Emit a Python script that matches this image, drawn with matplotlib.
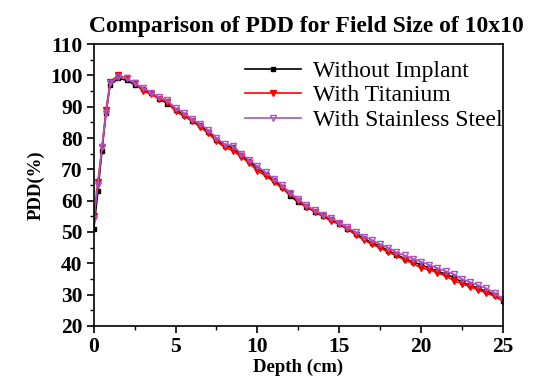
import matplotlib
matplotlib.use("Agg")
import matplotlib.pyplot as plt
from matplotlib.ticker import MultipleLocator

# ── Data ────────────────────────────────────────────────────────────────
depth = [0, 0.25, 0.5, 0.75, 1.0, 1.5, 2.0, 2.5, 3.0, 3.5, 4.0, 4.5, 5.0,
         5.5, 6.0, 6.5, 7.0, 7.5, 8.0, 8.5, 9.0, 9.5, 10.0, 10.5, 11.0,
         11.5, 12.0, 12.5, 13.0, 13.5, 14.0, 14.5, 15.0, 15.5, 16.0, 16.5,
         17.0, 17.5, 18.0, 18.5, 19.0, 19.5, 20.0, 20.5, 21.0, 21.5, 22.0,
         22.5, 23.0, 23.5, 24.0, 24.5, 25.0]

without_implant = [51, 63, 76, 88, 97, 99, 98.5, 97, 95.5, 94.5, 92.5, 91,
                   89, 87.5, 85.5, 84, 82, 79.5, 77.5, 77, 74.5, 72.5, 70.5,
                   68.5, 66.5, 64.5, 61.5, 59.5, 58, 56.5, 55, 54, 52.5, 51,
                   49.5, 48, 46.5, 45.5, 44, 42.8, 41.5, 40.5, 39.5, 38.5,
                   37.5, 36.5, 35.5, 34, 33, 32, 31, 30, 28]

with_titanium = [55, 66, 77, 89, 98, 100, 99, 97.5, 95, 94, 92.5, 91.5,
                 88.5, 87, 85.5, 83.5, 81.5, 79, 77, 76, 74, 72, 69.5,
                 68, 66, 64, 62, 60, 58, 56.5, 55, 53.5, 52.5, 51, 49,
                 47.5, 46, 45, 43.5, 42.5, 41, 40, 38.5, 38, 37, 36, 34.5,
                 33.5, 32.5, 31.5, 30.5, 29.5, 28]

with_stainless = [54, 65, 77, 88, 97.5, 99.5, 99, 97.5, 96, 94.5, 93, 92,
                  89.5, 88, 86, 84.5, 82.5, 80, 78, 77.5, 75, 73, 71,
                  69, 67, 65, 62.5, 60.5, 58.5, 57, 55.5, 54.5, 53, 51.5,
                  50, 48.5, 47.5, 46, 45, 43.5, 42.5, 41.5, 40.5, 39.5,
                  38.5, 37.5, 36.5, 35, 34, 33, 32, 30.5, 28.5]

# ── Plot ────────────────────────────────────────────────────────────────
plt.rcParams["font.family"] = ["Liberation Serif", "DejaVu Serif"]
plt.rcParams["font.weight"] = "bold"

fig = plt.figure(figsize=(5.36, 3.83), dpi=100)
ax = fig.add_axes([0.175, 0.149, 0.763, 0.736])

ax.plot(depth, without_implant, color="black", marker="s", markersize=3,
        linewidth=1.2, label="Without Implant")
ax.plot(depth, with_titanium, color="red", marker="v", markersize=4,
        linewidth=1.2, label="With Titanium")
ax.plot(depth, with_stainless, color="#a855c0", marker="v", markersize=4.5,
        markerfacecolor="none", linewidth=1.2, label="With Stainless Steel")

ax.set_xlim(0, 25)
ax.set_ylim(20, 110)
ax.xaxis.set_major_locator(MultipleLocator(5))
ax.xaxis.set_minor_locator(MultipleLocator(2.5))
ax.yaxis.set_major_locator(MultipleLocator(10))
ax.yaxis.set_minor_locator(MultipleLocator(5))
ax.tick_params(which="major", direction="out", length=5, width=1.2,
               labelsize=15.5, pad=3)
ax.tick_params(which="minor", direction="out", length=3, width=1.0)
for s in ax.spines.values():
    s.set_linewidth(1.2)

ax.set_xlabel("Depth (cm)", fontsize=13.5, fontweight="bold", labelpad=1)
ax.set_ylabel("PDD(%)", fontsize=13.5, fontweight="bold", labelpad=4)
ax.set_title("Comparison of PDD for Field Size of 10x10", fontsize=17,
             fontweight="bold", pad=9, x=0.52)

leg = ax.legend(loc="upper right", bbox_to_anchor=(1.04, 1.0), frameon=False,
                handlelength=2.4, handletextpad=0.5, borderaxespad=0.3,
                labelspacing=0.12, prop={"weight": "normal", "size": 17})

fig.savefig("out.png", dpi=100)
